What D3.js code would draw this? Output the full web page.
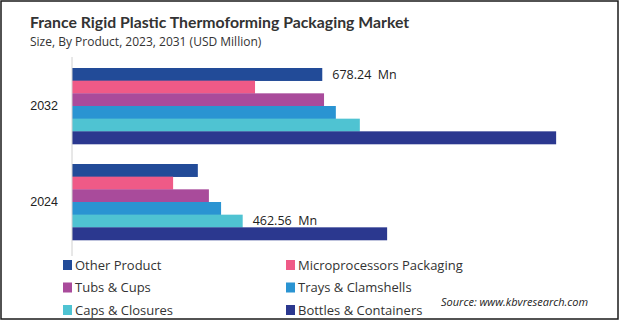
<!DOCTYPE html>
<html><head><meta charset="utf-8">
<script src="https://cdn.jsdelivr.net/npm/d3@7"></script>
<style>body{margin:0;background:#fff}svg{display:block;font-family:"Open Sans","Noto Sans",sans-serif}text{white-space:pre}</style>
</head><body><svg id="c" width="620" height="322"></svg>
<script>
const years = ["2032", "2024"];
const products = ["Other Product", "Microprocessors Packaging", "Tubs & Cups", "Trays & Clamshells", "Caps & Closures", "Bottles & Containers"];
const colors = ["#224b98", "#ef5a87", "#a94b9b", "#2a94d2", "#4fc3d2", "#2b388f"];
const values2032 = [678.24, 496, 683, 715, 780, 1312];
const values2024 = [341, 274, 371, 404, 462.56, 854];
const labels = [{year: "2032", idx: 0, text: "678.24  Mn"}, {year: "2024", idx: 4, text: "462.56  Mn"}];

const svg = d3.select("#c");
svg.append("rect").attr("x",1).attr("y",1).attr("width",617).attr("height",318)
  .attr("fill","none").attr("stroke","#1a1a1a").attr("stroke-width",1.5);

svg.append("text").attr("x",30).attr("y",28).attr("font-size",15.8).attr("font-weight","bold")
  .attr("font-family","Lato, 'Open Sans', sans-serif")
  .attr("fill","#333").text("France Rigid Plastic Thermoforming Packaging Market");
svg.append("text").attr("x",30).attr("y",46).attr("font-size",12).attr("fill","#333")
  .text("Size, By Product, 2023, 2031 (USD Million)");

const x = d3.scaleLinear().domain([0, 1000]).range([72, 72 + 1000/2.71]);
const y = d3.scaleBand().domain(years).range([68, 240]).paddingInner(0.2083).paddingOuter(0);
const yi = d3.scaleBand().domain(products).range([0, y.bandwidth()]);
const data = {"2032": values2032, "2024": values2024};

const g = svg.append("g");
years.forEach(yr => {
  const gg = g.append("g").attr("transform", `translate(0,${y(yr)})`);
  gg.selectAll("rect").data(data[yr]).join("rect")
    .attr("x", x(0)).attr("y", (d,i) => yi(products[i]))
    .attr("width", d => x(d) - x(0)).attr("height", yi.bandwidth() + 0.3)
    .attr("fill", (d,i) => colors[i]);
});

const yAxis = svg.append("g").attr("transform", `translate(${x(0)},0)`)
  .call(d3.axisLeft(y).tickSize(0).tickPadding(14));
yAxis.select(".domain").attr("stroke","#d0d0d0").attr("d", "M0,57V256");
yAxis.selectAll("text").attr("font-size",12.5).attr("fill","#222").attr("font-family","inherit");

labels.forEach(l => {
  const v = data[l.year][l.idx];
  svg.append("text").attr("x", x(v) + 10)
    .attr("y", y(l.year) + yi(products[l.idx]) + yi.bandwidth()/2)
    .attr("dy","0.35em").attr("font-size",12.5).attr("fill","#222").text(l.text);
});

const lg = svg.append("g");
products.forEach((p,i) => {
  const col = i % 2, row = Math.floor(i/2);
  const lx = col === 0 ? 63 : 286, ly = 265 + row * 22.5;
  lg.append("rect").attr("x", lx).attr("y", ly - 5).attr("width", 9).attr("height", 10).attr("fill", colors[i]);
  lg.append("text").attr("x", lx + 12).attr("y", ly).attr("dy","0.35em").attr("font-size",13).attr("fill","#333").text(p);
});

svg.append("text").attr("x",441).attr("y",306).attr("font-size",11).attr("font-style","italic")
  .attr("fill","#222").text("Source: www.kbvresearch.com");
</script></body></html>
